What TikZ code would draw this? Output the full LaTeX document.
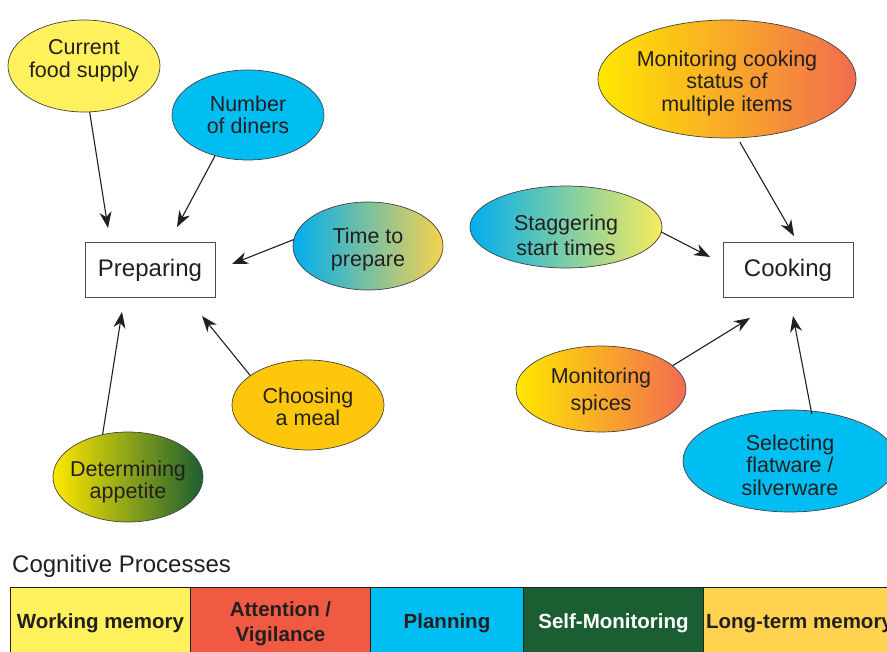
\documentclass[tikz,border=0pt]{standalone}
\usepackage{fontspec}
\setmainfont{Liberation Sans}
\usetikzlibrary{shapes.geometric,arrows.meta}
\definecolor{ink}{HTML}{231F20}
\definecolor{cyanA}{HTML}{00BEF2}
\definecolor{cyanL}{HTML}{00AEEF}
\definecolor{yelA}{HTML}{FFF15C}
\definecolor{yelG}{HTML}{FFE800}
\definecolor{goldA}{HTML}{FFC70B}
\definecolor{goldL}{HTML}{FFD34F}
\definecolor{sandR}{HTML}{F7D24F}
\definecolor{lemR}{HTML}{F8EC5C}
\definecolor{orgM}{HTML}{F8A83B}
\definecolor{orgR}{HTML}{F26B50}
\definecolor{redL}{HTML}{F15A42}
\definecolor{grnD}{HTML}{1B5E31}
\tikzset{
  bub/.style={ellipse, draw=ink!85, line width=0.7pt, inner sep=0pt, outer sep=0pt},
  lbl/.style={align=center, text=ink, font=\fontsize{21.5}{22.5}\selectfont},
  boxn/.style={rectangle, draw=ink!80, line width=0.9pt, minimum width=130pt, minimum height=55pt,
    text=ink, font=\fontsize{24}{26}\selectfont},
  arr/.style={draw=ink, line width=1.1pt, -{Stealth[length=16pt,width=12pt,inset=5pt]}},
  cell/.style={rectangle, draw=ink, line width=1pt, anchor=north west, minimum height=72pt,
    align=center, inner sep=0pt, font=\bfseries\fontsize{20.5}{25}\selectfont, text=ink}
}
\begin{document}
\begin{tikzpicture}[x=1pt,y=-1pt]
\clip (0,0) rectangle (887,652);
\fill[white] (0,0) rectangle (887,652);

% boxes
\node[boxn] (prep) at (150,270) {Preparing};
\node[boxn] (cook) at (788,270) {Cooking};

% bubbles - preparing
\node[bub, fill=yelA, minimum width=152pt, minimum height=92pt,
  label={[lbl, yshift=5.5pt]center:Current\\food supply}] (cfs) at (84,66) {};
\node[bub, fill=cyanA, minimum width=152pt, minimum height=90pt,
  label={[lbl]center:Number\\of diners}] (nod) at (248,115) {};
\node[bub, left color=cyanL, right color=sandR, minimum width=150pt, minimum height=88pt,
  label={[lbl, yshift=-3.5pt]center:Time to\\prepare}] (ttp) at (368,246) {};
\node[bub, fill=goldA, minimum width=152pt, minimum height=90pt,
  label={[lbl, yshift=-2pt]center:Choosing\\a meal}] (cam) at (308,405) {};
\node[bub, left color=yelG, right color=grnD, minimum width=150pt, minimum height=90pt,
  label={[lbl, yshift=-5pt]center:Determining\\appetite}] (da) at (128,477) {};

% bubbles - cooking
\node[bub, left color=yelG, middle color=orgM, right color=orgR, minimum width=258pt, minimum height=118pt,
  label={[lbl, yshift=-4pt]center:Monitoring cooking\\status of\\multiple items}] (mcs) at (727,79) {};
\node[bub, left color=cyanL, right color=lemR, minimum width=192pt, minimum height=82pt,
  label={[lbl, yshift=-8pt, font=\fontsize{21.5}{25}\selectfont]center:Staggering\\start times}] (sst) at (566,227) {};
\node[bub, left color=yelG, middle color=orgM, right color=orgR, minimum width=170pt, minimum height=86pt,
  label={[lbl, yshift=-2.5pt, font=\fontsize{21.5}{27}\selectfont]center:Monitoring\\spices}] (ms) at (601,389) {};
\node[bub, fill=cyanA, minimum width=214pt, minimum height=102pt,
  label={[lbl, yshift=-4pt]center:Selecting\\flatware /\\silverware}] (sf) at (790,461) {};

% arrow tips
\coordinate (t1) at (108,228);
\coordinate (t2) at (177,227);
\coordinate (t3) at (232,264);
\coordinate (t4) at (202,316);
\coordinate (t5) at (122,312);
\coordinate (t6) at (794,236);
\coordinate (t7) at (710,257);
\coordinate (t8) at (750,318);
\coordinate (t9) at (793,316);

\draw[arr] (cfs.-83) -- (t1);
\draw[arr] (nod.-129) -- (t2);
\draw[arr] (ttp.175) -- (t3);
\draw[arr] (cam.153) -- (t4);
\draw[arr] (da.121) -- (t5);
\draw[arr, shorten <=5pt] (mcs.-80) -- (t6);
\draw[arr] (sst.-3) -- (t7);
\draw[arr] (ms.18) -- (t8);
\draw[arr, shorten <=-3pt] (sf.67) -- (t9);

% legend
\node[anchor=base west, text=ink, font=\fontsize{24}{26}\selectfont, inner sep=0pt] (title) at (12,572) {Cognitive Processes};
\node[cell, fill=yelA, minimum width=180pt] (c1) at (10,587) {Working memory};
\node[cell, fill=redL, minimum width=180pt] (c2) at (190,587) {Attention /\\Vigilance};
\node[cell, fill=cyanA, minimum width=153pt] (c3) at (370,587) {Planning};
\node[cell, fill=grnD, minimum width=180pt, text=white] (c4) at (523,587) {Self-Monitoring};
\node[cell, fill=goldL, minimum width=192pt] (c5) at (703,587) {Long-term memory};
\end{tikzpicture}
\end{document}
